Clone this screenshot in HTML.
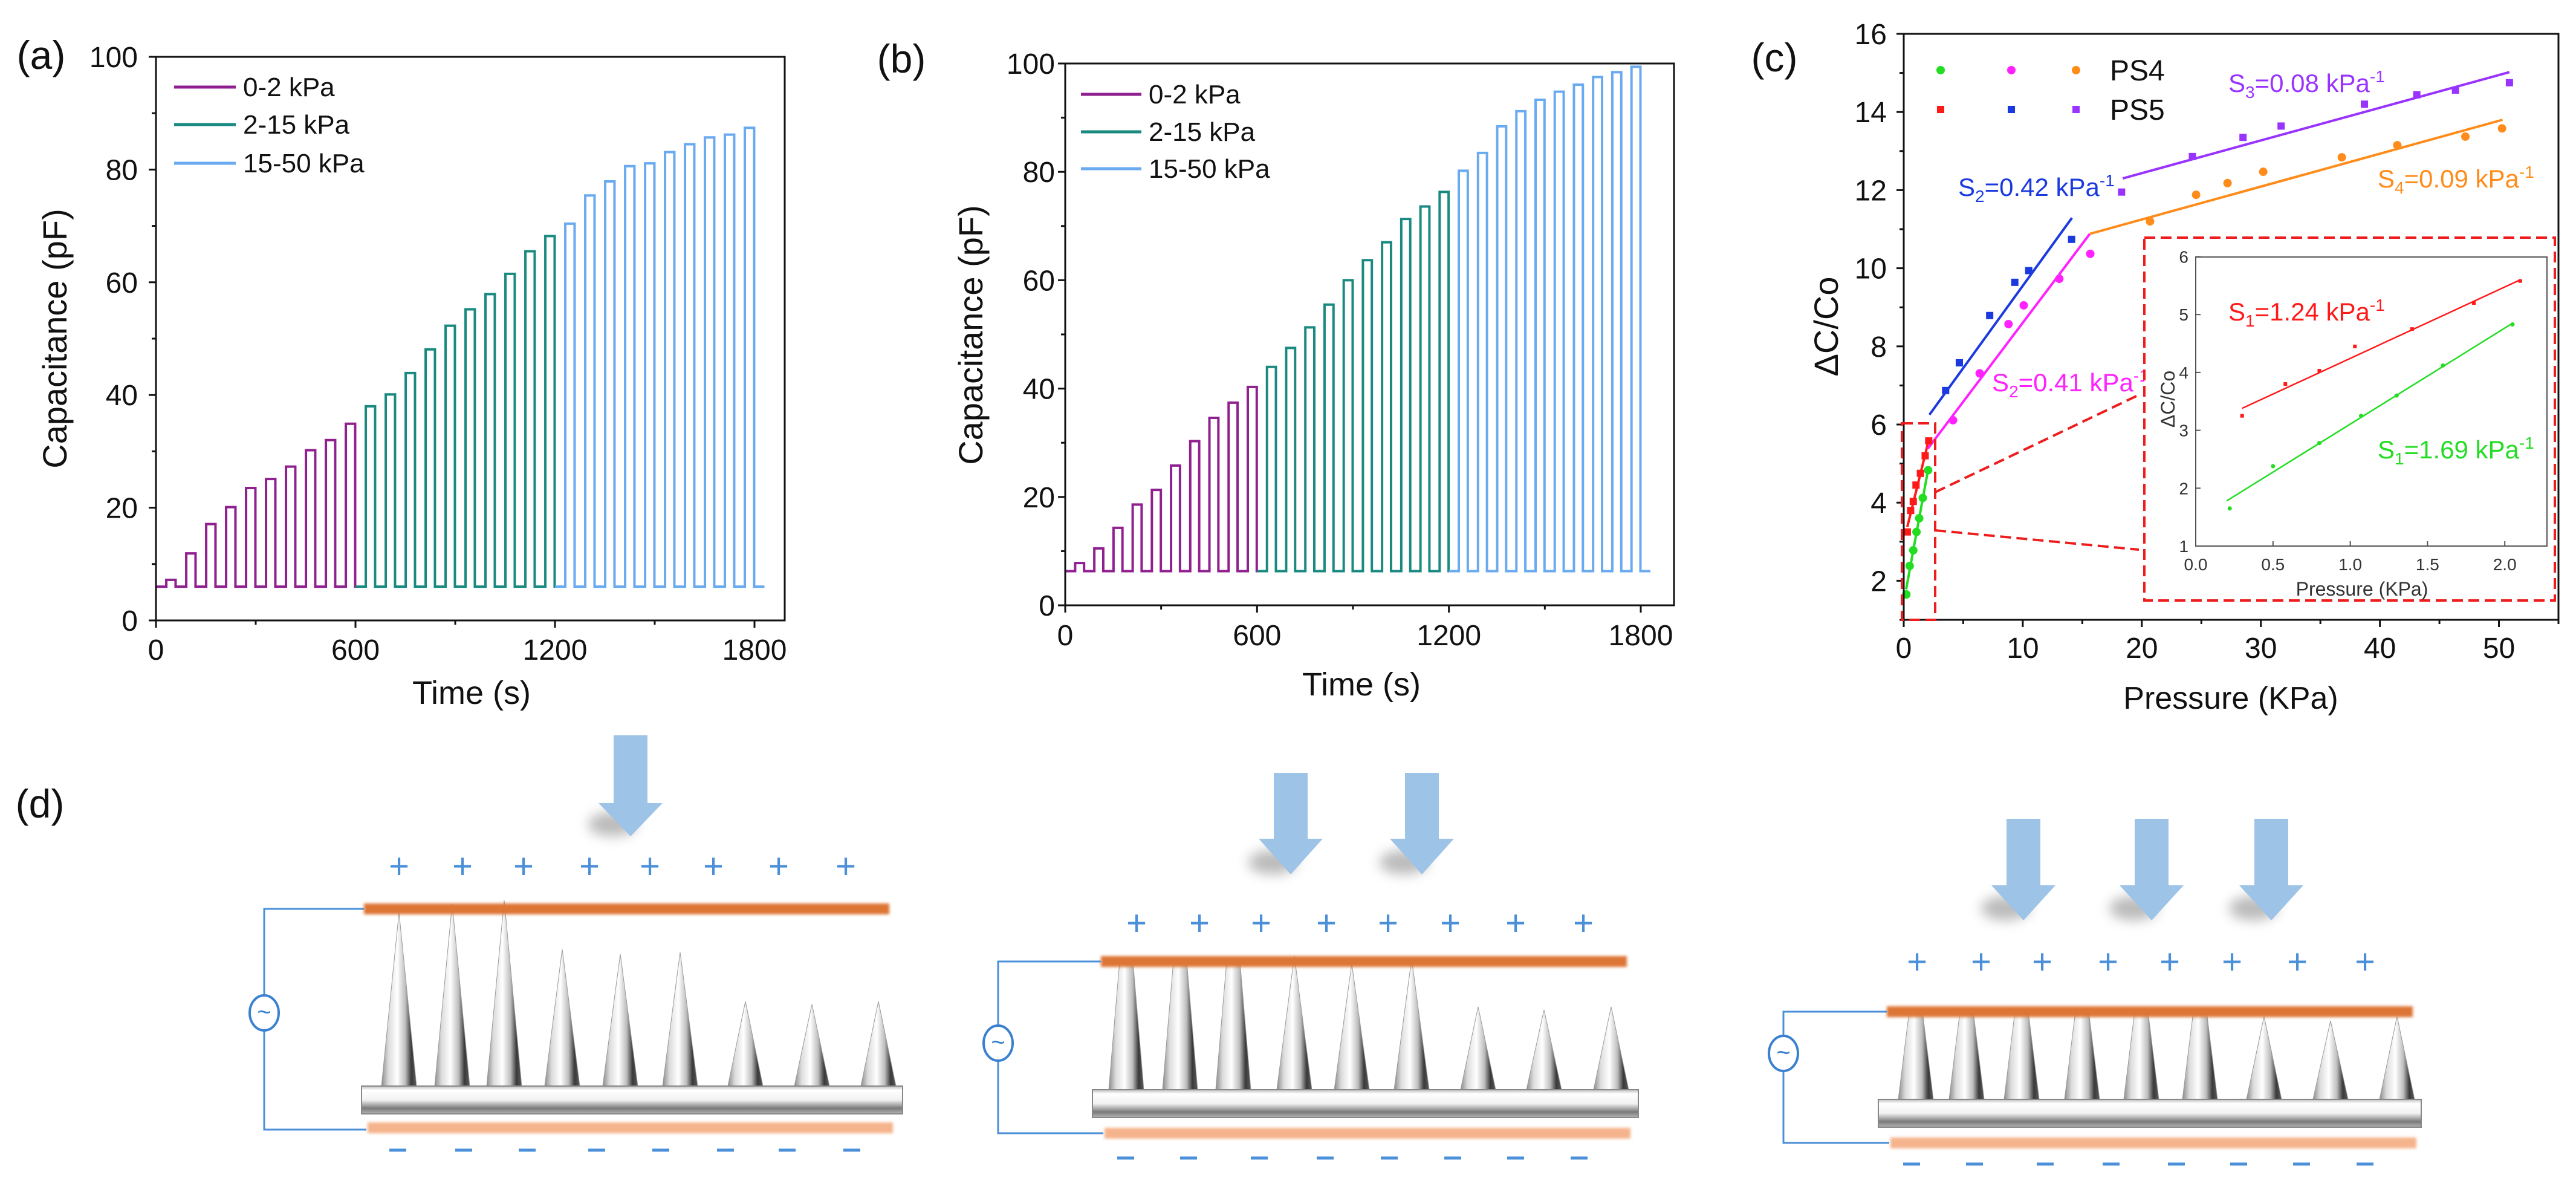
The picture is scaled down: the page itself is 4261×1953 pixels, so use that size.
<!DOCTYPE html>
<html><head><meta charset="utf-8">
<style>
html,body{margin:0;padding:0;background:#fff;}
svg{display:block;font-family:"Liberation Sans",sans-serif;}
</style></head>
<body>
<svg id="fig" xmlns="http://www.w3.org/2000/svg" width="4261" height="1953" viewBox="0 0 4261 1953">
<defs>
<linearGradient id="spikeGrad" x1="0" y1="0" x2="1" y2="0">
<stop offset="0" stop-color="#8a8a8a"/><stop offset="0.2" stop-color="#dcdcdc"/><stop offset="0.45" stop-color="#ffffff"/><stop offset="0.68" stop-color="#bdbdbd"/><stop offset="0.85" stop-color="#3a3a3a"/><stop offset="1" stop-color="#5a5a5a"/>
</linearGradient>
<linearGradient id="barGrad" x1="0" y1="0" x2="0" y2="1">
<stop offset="0" stop-color="#bdbdbd"/><stop offset="0.15" stop-color="#ffffff"/><stop offset="0.5" stop-color="#f2f2f2"/><stop offset="0.8" stop-color="#7a7a7a"/><stop offset="1" stop-color="#b5b5b5"/>
</linearGradient>
<filter id="soft" x="-5%" y="-60%" width="110%" height="220%"><feGaussianBlur stdDeviation="2.5"/></filter>
<filter id="shadow" x="-100%" y="-100%" width="300%" height="300%"><feGaussianBlur stdDeviation="10"/></filter>
</defs>
<g id="root"></g>
</svg>
<script>
// ---------- Panel (a) data ----------
const aPeaks0to2 = [7.2, 11.9, 17.1, 20.1, 23.5, 25.1, 27.3, 30.2, 32.0, 34.9];
const aPeaks2to15 = [38.0, 40.1, 43.9, 48.1, 52.3, 55.2, 57.9, 61.5, 65.5, 68.2];
const aPeaks15to50 = [70.4, 75.4, 77.9, 80.6, 81.1, 83.1, 84.5, 85.7, 86.2, 87.4];
const aBaseline = 6.0;
// ---------- Panel (b) data ----------
const bPeaks0to2 = [7.8, 10.5, 14.3, 18.6, 21.3, 25.8, 30.3, 34.6, 37.4, 40.3];
const bPeaks2to15 = [44.0, 47.5, 51.3, 55.5, 60.0, 63.7, 67.0, 71.3, 73.6, 76.3];
const bPeaks15to50 = [80.2, 83.5, 88.4, 91.2, 93.3, 94.8, 96.1, 97.5, 98.4, 99.4];
const bBaseline = 6.3;
const timeTicks = [0, 600, 1200, 1800];
const capTicks = [0, 20, 40, 60, 80, 100];
const legendLabels = ["0-2 kPa", "2-15 kPa", "15-50 kPa"];
// ---------- Panel (c) data ----------
const ps4LowP = [0.22, 0.5, 0.8, 1.07, 1.3, 1.6, 2.05];
const ps4LowV = [1.65, 2.38, 2.78, 3.25, 3.6, 4.12, 4.83];
const ps5LowP = [0.3, 0.58, 0.8, 1.03, 1.4, 1.8, 2.1];
const ps5LowV = [3.25, 3.8, 4.03, 4.45, 4.75, 5.2, 5.58];
const ps5MidP = [3.52, 4.67, 7.22, 9.33, 10.5, 14.1];
const ps5MidV = [6.87, 7.58, 8.79, 9.64, 9.94, 10.74];
const ps4MidP = [4.14, 6.38, 8.8, 10.08, 13.07, 15.67];
const ps4MidV = [6.11, 7.31, 8.57, 9.05, 9.73, 10.37];
const ps4HighP = [20.69, 24.56, 27.2, 30.2, 36.8, 41.46, 47.18, 50.26];
const ps4HighV = [11.2, 11.88, 12.18, 12.47, 12.84, 13.15, 13.37, 13.58];
const ps5HighP = [18.3, 24.25, 28.5, 31.7, 38.7, 43.1, 46.35, 50.88];
const ps5HighV = [11.95, 12.86, 13.35, 13.64, 14.2, 14.44, 14.56, 14.75];
// fit lines: start/end pressure and value
const fitStartP = [0.2, 0.3, 2.16, 2.02, 15.63, 18.4];
const fitEndP = [2.05, 2.1, 14.13, 15.63, 50.3, 50.88];
const fitStartV = [1.78, 3.38, 6.25, 5.38, 10.88, 12.3];
const fitEndV = [4.85, 5.6, 11.29, 10.88, 13.8, 15.02];
const pressTicks = [0, 10, 20, 30, 40, 50];
const dcTicks = [2, 4, 6, 8, 10, 12, 14, 16];
const insetPTicks = [0.0, 0.5, 1.0, 1.5, 2.0];
const insetVTicks = [1, 2, 3, 4, 5, 6];

const NS = "http://www.w3.org/2000/svg";
const root = document.getElementById("root");
function mk(tag, attrs, parent, name) {
  const el = document.createElementNS(NS, tag);
  for (const k in attrs) el.setAttribute(k, attrs[k]);
  
  
  (parent || root).appendChild(el);
  return el;
}
function txt(x, y, s, size, opts, parent, name) {
  const a = Object.assign({x: x, y: y, "font-size": size, fill: "#111"}, opts || {});
  const el = mk("text", a, parent, name);
  el.textContent = s;
  return el;
}
function group(name) {
  const g = document.createElementNS(NS, "g");
  
  
  root.appendChild(g);
  return g;
}

// ---------- time-series panels ----------
const segColors = ["#902090", "#1a8a80", "#6aaaf0"];
function timePanel(cfg, peaksList, base, id) {
  const g = group("panel-" + id);
  const X = t => cfg.x0 + (t / 1800) * (cfg.x1800 - cfg.x0);
  const Y = v => cfg.y0 - (v / 100) * (cfg.y0 - cfg.y100);
  peaksList.forEach((peaks, s) => {
    let d = "M" + X(600 * s) + "," + Y(base);
    peaks.forEach((p, i) => {
      const t0 = 600 * s + 60 * i;
      d += " L" + X(t0 + 31) + "," + Y(base) + " L" + X(t0 + 31) + "," + Y(p) +
           " L" + X(t0 + 59) + "," + Y(p) + " L" + X(t0 + 59) + "," + Y(base);
    });
    const tEnd = s === 2 ? 1830 : 600 * (s + 1);
    d += " L" + X(tEnd) + "," + Y(base);
    mk("path", {d: d, fill: "none", stroke: segColors[s], "stroke-width": 4}, g, "trace-" + id + "-" + legendLabels[s].replace(/ /g, ""));
  });
  mk("rect", {x: cfg.x0, y: cfg.y100, width: cfg.right - cfg.x0, height: cfg.y0 - cfg.y100, fill: "none", stroke: "#111", "stroke-width": 3}, g, "plot-frame-" + id);
  for (let v = 0; v <= 100; v += 10) {
    const major = v % 20 === 0;
    mk("line", {x1: cfg.x0 - (major ? 12 : 7), y1: Y(v), x2: cfg.x0, y2: Y(v), stroke: "#111", "stroke-width": 3}, g, "y-tick");
  }
  for (let t = 0; t <= 1800; t += 300) {
    const major = t % 600 === 0;
    mk("line", {x1: X(t), y1: cfg.y0, x2: X(t), y2: cfg.y0 + (major ? 12 : 7), stroke: "#111", "stroke-width": 3}, g, "x-tick");
  }
  capTicks.forEach(v => txt(cfg.ylabRight, Y(v) + 17, String(v), 48, {"text-anchor": "end"}, g, "y-tick-label"));
  timeTicks.forEach(t => txt(X(t), cfg.xlabY, String(t), 48, {"text-anchor": "middle"}, g, "x-tick-label"));
  txt(cfg.xTitleX, cfg.xTitleY, "Time (s)", 54, {"text-anchor": "middle"}, g, "x-axis-title");
  txt(0, 0, "Capacitance (pF)", 56, {"text-anchor": "middle", transform: "translate(" + cfg.yTitleX + "," + cfg.yTitleY + ") rotate(-90)"}, g, "y-axis-title");
  cfg.legY.forEach((ly, i) => {
    mk("line", {x1: cfg.legX0, y1: ly, x2: cfg.legX1, y2: ly, stroke: segColors[i], "stroke-width": 5}, g, "legend-line");
    txt(cfg.legX1 + 12, ly + 15, legendLabels[i], 44, {}, g, "legend-entry");
  });
  txt(cfg.labelX, cfg.labelY, cfg.label, 66, {"text-anchor": "middle"}, g, "panel-label");
}
timePanel({x0: 258, x1800: 1248, y0: 1026, y100: 94, right: 1298, ylabRight: 228, xlabY: 1091,
  xTitleX: 780, xTitleY: 1164, yTitleX: 110, yTitleY: 560, legX0: 288, legX1: 390, legY: [144, 206, 270],
  label: "(a)", labelX: 68, labelY: 114}, [aPeaks0to2, aPeaks2to15, aPeaks15to50], aBaseline, "a");
timePanel({x0: 1762, x1800: 2714, y0: 1001, y100: 105, right: 2769, ylabRight: 1745, xlabY: 1067,
  xTitleX: 2252, xTitleY: 1150, yTitleX: 1625, yTitleY: 554, legX0: 1788, legX1: 1888, legY: [156, 218, 279],
  label: "(b)", labelX: 1491, labelY: 120}, [bPeaks0to2, bPeaks2to15, bPeaks15to50], bBaseline, "b");

// ---------- Panel (c) ----------
(function () {
  const g = group("panel-c");
  const X = p => 3149 + p * (4232 - 3149) / 55;
  const Y = v => 1025 - (v - 1) * (1025 - 56) / 15;
  const fitColors = ["#22dd22", "#ff1a1a", "#1a3adf", "#ff22ff", "#ff8c1a", "#9933ff"];
  fitStartP.forEach((p, i) => {
    mk("line", {x1: X(p), y1: Y(fitStartV[i]), x2: X(fitEndP[i]), y2: Y(fitEndV[i]), stroke: fitColors[i], "stroke-width": 4}, g, "fit-line");
  });
  function circles(P, V, col, name) { P.forEach((p, i) => mk("circle", {cx: X(p), cy: Y(V[i]), r: 7, fill: col}, g, name)); }
  function squares(P, V, col, name) { P.forEach((p, i) => mk("rect", {x: X(p) - 6, y: Y(V[i]) - 6, width: 12, height: 12, fill: col}, g, name)); }
  circles(ps4LowP, ps4LowV, "#22dd22", "ps4-low-point");
  squares(ps5LowP, ps5LowV, "#ff1a1a", "ps5-low-point");
  squares(ps5MidP, ps5MidV, "#1a3adf", "ps5-mid-point");
  circles(ps4MidP, ps4MidV, "#ff22ff", "ps4-mid-point");
  circles(ps4HighP, ps4HighV, "#ff8c1a", "ps4-high-point");
  squares(ps5HighP, ps5HighV, "#9933ff", "ps5-high-point");
  mk("rect", {x: 3149, y: 56, width: 4232 - 3149, height: 1025 - 56, fill: "none", stroke: "#111", "stroke-width": 3}, g, "plot-frame-c");
  for (let v = 1; v <= 16; v++) {
    const major = v % 2 === 0;
    mk("line", {x1: 3149 - (major ? 12 : 7), y1: Y(v), x2: 3149, y2: Y(v), stroke: "#111", "stroke-width": 3}, g, "y-tick");
  }
  for (let p = 0; p <= 55; p += 5) {
    const major = p % 10 === 0;
    mk("line", {x1: X(p), y1: 1025, x2: X(p), y2: 1025 + (major ? 12 : 7), stroke: "#111", "stroke-width": 3}, g, "x-tick");
  }
  dcTicks.forEach(v => txt(3121, Y(v) + 17, String(v), 48, {"text-anchor": "end"}, g, "y-tick-label"));
  pressTicks.forEach(p => txt(X(p), 1088, String(p), 48, {"text-anchor": "middle"}, g, "x-tick-label"));
  txt(3690, 1172, "Pressure (KPa)", 52, {"text-anchor": "middle"}, g, "x-axis-title");
  txt(0, 0, "\u0394C/Co", 56, {"text-anchor": "middle", transform: "translate(3040,540) rotate(-90)"}, g, "y-axis-title");
  txt(2935, 118, "(c)", 66, {"text-anchor": "middle"}, g, "panel-label");
  const legCols = [["#22dd22", "#ff22ff", "#ff8c1a"], ["#ff1a1a", "#1a3adf", "#9933ff"]];
  const legX = [3210, 3327, 3434];
  [116, 181].forEach((ly, r) => {
    legX.forEach((lx, c) => {
      if (r === 0) mk("circle", {cx: lx, cy: ly, r: 7, fill: legCols[r][c]}, g, "legend-marker");
      else mk("rect", {x: lx - 6, y: ly - 6, width: 12, height: 12, fill: legCols[r][c]}, g, "legend-marker");
    });
    txt(3490, ly + 17, r === 0 ? "PS4" : "PS5", 48, {}, g, "legend-entry");
  });
  function slope(x, y, sub, val, col, name) {
    const t = mk("text", {x: x, y: y, "font-size": 42, fill: col}, g, name);
    t.innerHTML = 'S<tspan font-size="28" dy="10">' + sub + '</tspan><tspan dy="-10">=' + val + ' kPa</tspan><tspan font-size="28" dy="-16">-1</tspan>';
  }
  slope(3239, 324, "2", "0.42", "#1a3adf", "slope-label-blue");
  slope(3295, 647, "2", "0.41", "#ff22ff", "slope-label-magenta");
  slope(3686, 152, "3", "0.08", "#9933ff", "slope-label-purple");
  slope(3933, 310, "4", "0.09", "#ff8c1a", "slope-label-orange");
  mk("rect", {x: 3146, y: 700, width: 55, height: 325, fill: "none", stroke: "#ee1c1c", "stroke-width": 4, "stroke-dasharray": "18,9"}, g, "zoom-region-box");
  mk("line", {x1: 3201, y1: 814, x2: 3538, y2: 653, stroke: "#ee1c1c", "stroke-width": 4, "stroke-dasharray": "18,9"}, g, "zoom-connector");
  mk("line", {x1: 3201, y1: 877, x2: 3538, y2: 909, stroke: "#ee1c1c", "stroke-width": 4, "stroke-dasharray": "18,9"}, g, "zoom-connector");
  mk("rect", {x: 3547, y: 393, width: 679, height: 600, fill: "#fff", stroke: "#ee1c1c", "stroke-width": 4, "stroke-dasharray": "18,9"}, g, "inset-box");
  const IX = p => 3632 + p * 255.6;
  const IY = v => 903 - (v - 1) * 95.7;
  mk("rect", {x: 3632, y: 425, width: 4213 - 3632, height: 478, fill: "none", stroke: "#555", "stroke-width": 2}, g, "inset-frame");
  insetPTicks.forEach(p => {
    mk("line", {x1: IX(p), y1: 903, x2: IX(p), y2: 895, stroke: "#555", "stroke-width": 2}, g, "inset-x-tick");
    txt(IX(p), 943, p.toFixed(1), 28, {"text-anchor": "middle", fill: "#333"}, g, "inset-x-tick-label");
  });
  insetVTicks.forEach(v => {
    mk("line", {x1: 3632, y1: IY(v), x2: 3640, y2: IY(v), stroke: "#555", "stroke-width": 2}, g, "inset-y-tick");
    txt(3620, IY(v) + 10, String(v), 28, {"text-anchor": "end", fill: "#333"}, g, "inset-y-tick-label");
  });
  txt(3907, 985, "Pressure (KPa)", 32, {"text-anchor": "middle", fill: "#333"}, g, "inset-x-title");
  txt(0, 0, "\u0394C/Co", 32, {"text-anchor": "middle", fill: "#333", transform: "translate(3597,660) rotate(-90)"}, g, "inset-y-title");
  [[0, "#22dd22"], [1, "#ff1a1a"]].forEach(([i, col]) => {
    mk("line", {x1: IX(fitStartP[i]), y1: IY(fitStartV[i]), x2: IX(fitEndP[i]), y2: IY(fitEndV[i]), stroke: col, "stroke-width": 2.5}, g, "inset-fit-line");
  });
  ps4LowP.forEach((p, i) => mk("circle", {cx: IX(p), cy: IY(ps4LowV[i]), r: 3.5, fill: "#22dd22"}, g, "inset-ps4-point"));
  ps5LowP.forEach((p, i) => mk("rect", {x: IX(p) - 3, y: IY(ps5LowV[i]) - 3, width: 6, height: 6, fill: "#ff1a1a"}, g, "inset-ps5-point"));
  slope(3686, 530, "1", "1.24", "#ff1a1a", "inset-slope-red");
  slope(3933, 758, "1", "1.69", "#22dd22", "inset-slope-green");
})();

// ---------- Panel (d) schematics ----------
const schem = [
  {arrows: [1043], aTop: 1216, aHead: 1328, aTip: 1383, plusY: 1452,
   plusX: [660, 765, 866, 975, 1075, 1180, 1288, 1399], plateY: 1503, plateX0: 602, plateX1: 1471,
   spikeX: [660, 748, 834, 930, 1026, 1125, 1233, 1343, 1453], spikeTip: [1509, 1495, 1489, 1570, 1578, 1575, 1656, 1661, 1656],
   cut: 0, baseY: 1796, barX0: 598, barX1: 1493, barH: 46, peachY: 1865, minusY: 1902,
   minusX: [658, 767, 872, 987, 1093, 1200, 1302, 1409], cx: 437, cy: 1675, wireBottom: 1868},
  {arrows: [2135, 2352], aTop: 1278, aHead: 1387, aTip: 1446, plusY: 1546,
   plusX: [1880, 1984, 2086, 2194, 2296, 2399, 2507, 2619], plateY: 1590, plateX0: 1821, plateX1: 2691,
   spikeX: [1863, 1952, 2040, 2141, 2236, 2335, 2445, 2554, 2665], spikeTip: [1590, 1590, 1590, 1581, 1594, 1586, 1665, 1670, 1665],
   cut: 3, baseY: 1802, barX0: 1807, barX1: 2710, barH: 46, peachY: 1874, minusY: 1915,
   minusX: [1862, 1966, 2083, 2192, 2298, 2403, 2507, 2612], cx: 1651, cy: 1725, wireBottom: 1874},
  {arrows: [3347, 3559, 3757], aTop: 1354, aHead: 1464, aTip: 1522, plusY: 1610,
   plusX: [3171, 3277, 3378, 3487, 3589, 3692, 3800, 3912], plateY: 1673, plateX0: 3121, plateX1: 3991,
   spikeX: [3169, 3253, 3344, 3444, 3542, 3639, 3745, 3855, 3965], spikeTip: [1673, 1673, 1673, 1673, 1673, 1673, 1681, 1688, 1681],
   cut: 6, baseY: 1818, barX0: 3107, barX1: 4005, barH: 46, peachY: 1890, minusY: 1925,
   minusX: [3162, 3266, 3383, 3492, 3600, 3703, 3807, 3912], cx: 2950, cy: 1742, wireBottom: 1890}
];
schem.forEach((s, k) => {
  const g = group("schematic-" + (k + 1));
  s.arrows.forEach(ax => {
    mk("ellipse", {cx: ax - 30, cy: s.aTip - 20, rx: 40, ry: 20, fill: "#777", opacity: 0.5, filter: "url(#shadow)"}, g, "arrow-shadow");
    const d = "M" + (ax - 28) + "," + s.aTop + " L" + (ax + 28) + "," + s.aTop + " L" + (ax + 28) + "," + s.aHead +
      " L" + (ax + 53) + "," + s.aHead + " L" + ax + "," + s.aTip + " L" + (ax - 53) + "," + s.aHead + " L" + (ax - 28) + "," + s.aHead + " Z";
    mk("path", {d: d, fill: "#9dc3e6"}, g, "pressure-arrow");
  });
  s.plusX.forEach(px => txt(px, s.plusY, "+", 58, {"text-anchor": "middle", fill: "#4a8fd8"}, g, "positive-charge"));
  s.spikeX.forEach((sx, i) => {
    const hw = 29;
    let d;
    if (i < s.cut) {
      d = "M" + (sx - hw) + "," + s.baseY + " L" + (sx - 11) + "," + s.plateY + " L" + (sx + 11) + "," + s.plateY + " L" + (sx + hw) + "," + s.baseY + " Z";
    } else {
      d = "M" + (sx - hw) + "," + s.baseY + " L" + sx + "," + s.spikeTip[i] + " L" + (sx + hw) + "," + s.baseY + " Z";
    }
    mk("path", {d: d, fill: "url(#spikeGrad)", stroke: "#9a9a9a", "stroke-width": 1}, g, "microstructure-spike");
  });
  mk("rect", {x: s.plateX0, y: s.plateY - 9, width: s.plateX1 - s.plateX0, height: 18, fill: "#dd7436", filter: "url(#soft)"}, g, "top-electrode");
  mk("rect", {x: s.barX0, y: s.baseY, width: s.barX1 - s.barX0, height: s.barH, fill: "url(#barGrad)", stroke: "#888", "stroke-width": 2}, g, "substrate-bar");
  mk("rect", {x: s.plateX0 + 6, y: s.peachY - 9, width: s.plateX1 - s.plateX0, height: 18, fill: "#f5b48c", filter: "url(#soft)"}, g, "bottom-electrode");
  s.minusX.forEach(mx => mk("line", {x1: mx - 14, y1: s.minusY, x2: mx + 14, y2: s.minusY, stroke: "#4a8fd8", "stroke-width": 5}, g, "negative-charge"));
  mk("path", {d: "M" + s.plateX0 + "," + s.plateY + " L" + s.cx + "," + s.plateY + " L" + s.cx + "," + s.wireBottom + " L" + (s.plateX0 + 4) + "," + s.wireBottom,
    fill: "none", stroke: "#4a8fd8", "stroke-width": 3}, g, "circuit-wire");
  mk("ellipse", {cx: s.cx, cy: s.cy, rx: 24, ry: 29, fill: "#fff", stroke: "#3a80d0", "stroke-width": 4}, g, "ac-source");
  txt(s.cx, s.cy + 12, "~", 40, {"text-anchor": "middle", fill: "#3a80d0"}, g, "ac-source-symbol");
});
txt(66, 1352, "(d)", 66, {"text-anchor": "middle"}, null, "panel-label-d");
</script>
</body></html>
